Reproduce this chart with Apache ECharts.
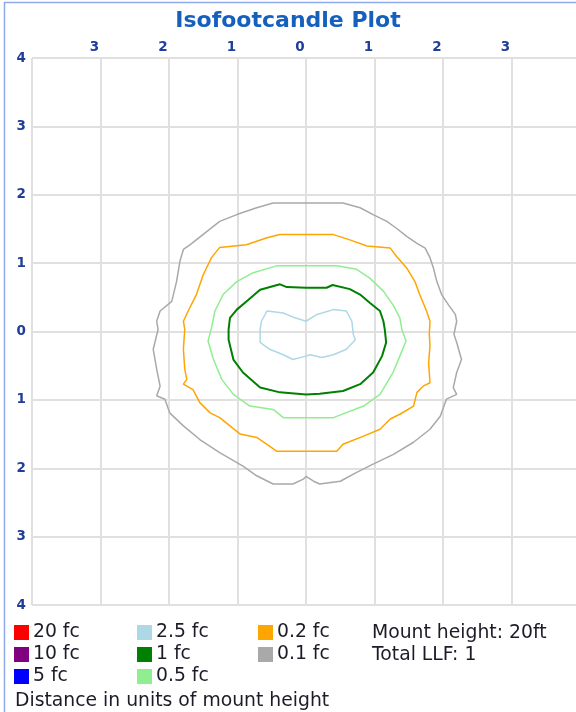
<!DOCTYPE html>
<html>
<head>
<meta charset="utf-8">
<script src="https://cdn.jsdelivr.net/npm/echarts@6/dist/echarts.min.js"></script>
<style>
  html, body { margin: 0; padding: 0; background: #fff; }
  #chart { width: 576px; height: 712px; }
</style>
</head>
<body>
<div id="chart"></div>
<script>
// illuminance levels, legend order
const levelNames = ['20 fc', '10 fc', '5 fc', '2.5 fc', '1 fc', '0.5 fc', '0.2 fc', '0.1 fc'];
const levelColors = ['#ff0000', '#800080', '#0000ff', '#add8e6', '#008000', '#90ee90', '#ffa500', '#a9a9a9'];
const levelWidths = [1.5, 1.5, 1.5, 1.5, 2, 1.5, 1.5, 1.5];

// contour points [x, y] in units of mount height
const contour20 = [];
const contour10 = [];
const contour5 = [];
const contour2_5 = [
    [0, 0.15], [0.16, 0.25], [0.40, 0.32], [0.59, 0.30], [0.67, 0.15], [0.69, -0.04], [0.72, -0.12],
    [0.59, -0.26], [0.40, -0.34], [0.23, -0.38], [0.06, -0.34], [0, -0.36], [-0.19, -0.41], [-0.33, -0.34],
    [-0.53, -0.26], [-0.67, -0.16], [-0.67, 0.03], [-0.65, 0.15], [-0.57, 0.30], [-0.33, 0.27], [-0.16, 0.20],
    [0, 0.15]
];
const contour1 = [
    [0, 0.64], [0.30, 0.64], [0.39, 0.68], [0.64, 0.62], [0.79, 0.54], [0.93, 0.42], [1.08, 0.30], [1.13, 0.15],
    [1.15, 0.03], [1.17, -0.16], [1.11, -0.36], [0.98, -0.60], [0.79, -0.77], [0.54, -0.87], [0.20, -0.91],
    [0, -0.92], [-0.38, -0.89], [-0.67, -0.82], [-0.92, -0.60], [-1.06, -0.41], [-1.13, -0.12], [-1.13, 0.03],
    [-1.11, 0.20], [-1.01, 0.32], [-0.87, 0.44], [-0.67, 0.61], [-0.38, 0.69], [-0.28, 0.65], [0, 0.64]
];
const contour0_5 = [
    [0, 0.96], [0.45, 0.96], [0.74, 0.91], [0.93, 0.78], [1.13, 0.59], [1.27, 0.39], [1.37, 0.20], [1.40, 0.03],
    [1.46, -0.14], [1.37, -0.36], [1.27, -0.60], [1.08, -0.92], [0.84, -1.09], [0.40, -1.26], [0, -1.26],
    [-0.33, -1.26], [-0.48, -1.14], [-0.82, -1.09], [-1.06, -0.92], [-1.23, -0.70], [-1.35, -0.41],
    [-1.43, -0.14], [-1.38, 0.05], [-1.33, 0.30], [-1.21, 0.54], [-1.01, 0.73], [-0.77, 0.86], [-0.43, 0.96],
    [0, 0.96]
];
const contour0_2 = [
    [0, 1.42], [0.39, 1.42], [0.64, 1.34], [0.89, 1.25], [1.23, 1.22], [1.32, 1.10], [1.47, 0.93], [1.59, 0.73],
    [1.66, 0.54], [1.76, 0.30], [1.81, 0.15], [1.80, -0.04], [1.81, -0.21], [1.79, -0.46], [1.81, -0.75],
    [1.71, -0.80], [1.62, -0.89], [1.57, -1.09], [1.37, -1.21], [1.23, -1.28], [1.08, -1.43], [0.84, -1.53],
    [0.54, -1.65], [0.45, -1.75], [0, -1.75], [-0.43, -1.75], [-0.57, -1.65], [-0.72, -1.55], [-0.96, -1.50],
    [-1.11, -1.38], [-1.26, -1.26], [-1.40, -1.19], [-1.55, -1.04], [-1.65, -0.85], [-1.79, -0.77],
    [-1.74, -0.70], [-1.77, -0.55], [-1.79, -0.26], [-1.77, 0.03], [-1.79, 0.15], [-1.72, 0.30], [-1.60, 0.54],
    [-1.50, 0.83], [-1.38, 1.08], [-1.26, 1.23], [-0.87, 1.27], [-0.57, 1.37], [-0.38, 1.42], [0, 1.42]
];
const contour0_1 = [
    [0, 1.88], [0.54, 1.88], [0.79, 1.81], [0.98, 1.71], [1.18, 1.61], [1.32, 1.51], [1.47, 1.39], [1.62, 1.29],
    [1.74, 1.22], [1.81, 1.08], [1.86, 0.93], [1.91, 0.73], [1.98, 0.54], [2.08, 0.39], [2.18, 0.25],
    [2.20, 0.15], [2.16, -0.04], [2.20, -0.16], [2.27, -0.41], [2.20, -0.60], [2.15, -0.82], [2.20, -0.92],
    [2.05, -0.99], [1.96, -1.24], [1.81, -1.43], [1.57, -1.62], [1.27, -1.80], [0.98, -1.94], [0.74, -2.06],
    [0.50, -2.19], [0.20, -2.23], [0.11, -2.19], [0, -2.12], [-0.04, -2.16], [-0.19, -2.23], [-0.48, -2.23],
    [-0.72, -2.11], [-0.92, -1.97], [-1.26, -1.77], [-1.55, -1.58], [-1.79, -1.38], [-1.99, -1.19],
    [-2.06, -0.99], [-2.18, -0.94], [-2.13, -0.80], [-2.18, -0.55], [-2.23, -0.26], [-2.16, 0.03],
    [-2.18, 0.15], [-2.13, 0.30], [-1.96, 0.44], [-1.89, 0.73], [-1.84, 1.03], [-1.79, 1.20], [-1.69, 1.27],
    [-1.45, 1.46], [-1.26, 1.61], [-1.01, 1.71], [-0.72, 1.81], [-0.48, 1.88], [0, 1.88]
];
const contours = [contour20, contour10, contour5, contour2_5, contour1, contour0_5, contour0_2, contour0_1];

const infoLines = ['Mount height: 20ft', 'Total LLF: 1'];
const axisNote = 'Distance in units of mount height';

const labelBlue = '#1f3d99';
const textColor = '#1c1c28';
const textFont = 'DejaVu Sans';

const chart = echarts.init(document.getElementById('chart'));

const series = levelNames.map((name, i) => ({
    name: name,
    type: 'line',
    data: contours[i],
    showSymbol: false,
    symbol: 'none',
    silent: true,
    itemStyle: { color: levelColors[i] },
    lineStyle: { color: levelColors[i], width: levelWidths[i] },
    z: 10 - i
}));

// three legend columns, filled top to bottom
const legendStyle = {
    orient: 'vertical',
    icon: 'rect',
    itemWidth: 15,
    itemHeight: 15,
    itemGap: 3,
    selectedMode: false,
    textStyle: { fontFamily: textFont, fontSize: 18.8, lineHeight: 15, color: textColor, padding: [0, 0, 0, -1] }
};

chart.setOption({
    animation: false,
    title: {
        text: 'Isofootcandle Plot',
        left: 'center',
        top: 10,
        padding: [0, 0, 0, 6],
        textStyle: { fontFamily: textFont, fontWeight: 'bold', fontSize: 22, color: '#1560bd' }
    },
    grid: { left: 32, top: 58, width: 548, height: 547, outerBoundsMode: 'none' },
    xAxis: {
        type: 'value',
        position: 'top',
        min: -4, max: 4, interval: 1,
        axisLine: { show: true, lineStyle: { color: '#e0e0e0', width: 2 } },
        axisTick: { show: false },
        splitLine: { show: true, lineStyle: { color: '#e0e0e0', width: 2 } },
        axisLabel: {
            margin: 4,
            padding: [0, 12, 0, 0],
            fontFamily: textFont, fontWeight: 'bold', fontSize: 13.5, color: labelBlue,
            formatter: v => Math.abs(v) === 4 ? '' : String(Math.abs(v))
        }
    },
    yAxis: {
        type: 'value',
        min: -4, max: 4, interval: 1,
        axisLine: { show: true, lineStyle: { color: '#e0e0e0', width: 2 } },
        axisTick: { show: false },
        splitLine: { show: true, lineStyle: { color: '#e0e0e0', width: 2 } },
        axisLabel: {
            margin: 6,
            padding: [4, 0, 0, 0],
            fontFamily: textFont, fontWeight: 'bold', fontSize: 13.5, color: labelBlue,
            formatter: v => String(Math.abs(v))
        }
    },
    legend: [
        Object.assign({ left: 9, top: 618, data: levelNames.slice(0, 3) }, legendStyle),
        Object.assign({ left: 132, top: 618, data: levelNames.slice(3, 6) }, legendStyle),
        Object.assign({ left: 253, top: 618, data: levelNames.slice(6, 8) }, legendStyle)
    ],
    graphic: [
        {
            type: 'rect', silent: true,
            shape: { x: 4.5, y: 2.5, width: 640, height: 760 },
            style: { fill: null, stroke: '#8eaaea', lineWidth: 1.5 }
        },
        {
            type: 'text', left: 372, top: 622,
            style: { text: infoLines.join('\n'), lineHeight: 22, font: '18.8px "DejaVu Sans"', fill: textColor }
        },
        {
            type: 'text', left: 15, top: 692,
            style: { text: axisNote, font: '18.8px "DejaVu Sans"', fill: textColor }
        }
    ],
    series: series
});
</script>
</body>
</html>
